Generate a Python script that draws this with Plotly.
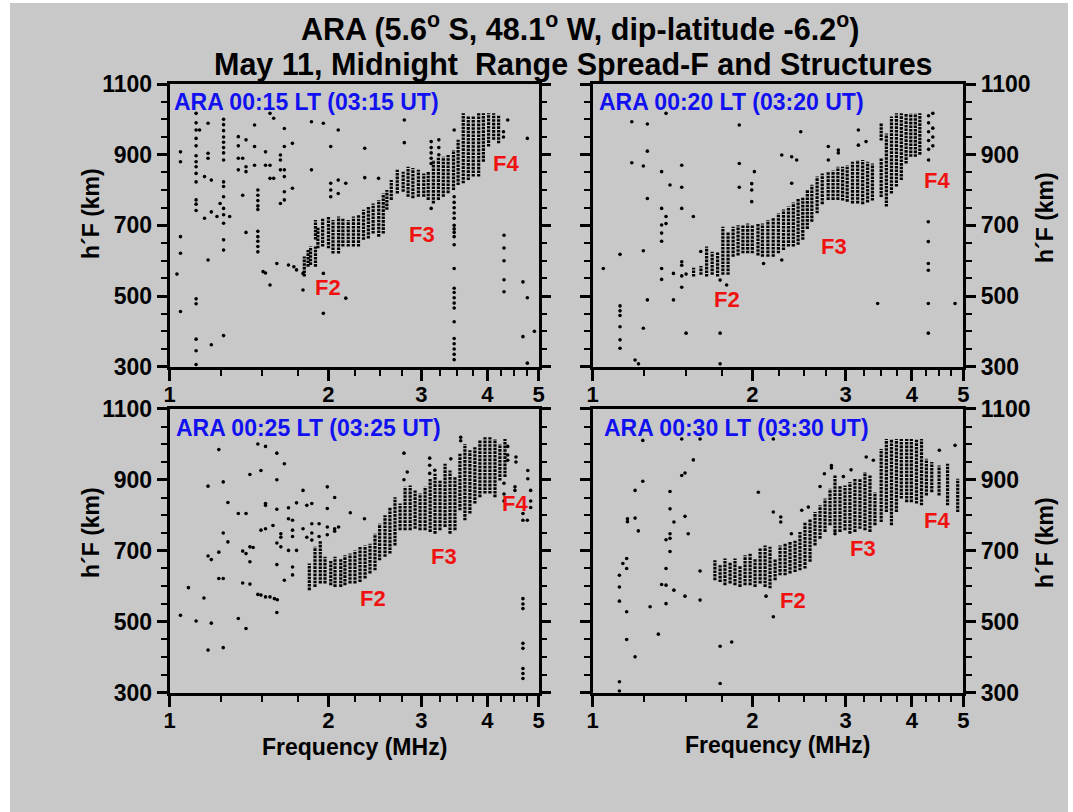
import math
import plotly.graph_objects as go

# ---------------- data ----------------
TITLE_1 = "ARA (5.6<sup>o</sup> S, 48.1<sup>o</sup> W, dip-latitude -6.2<sup>o</sup>)"
TITLE_2 = "May 11, Midnight  Range Spread-F and Structures"
PANEL_LABELS = ["ARA 00:15 LT (03:15 UT)", "ARA 00:20 LT (03:20 UT)",
                "ARA 00:25 LT (03:25 UT)", "ARA 00:30 LT (03:30 UT)"]
X_TICKS = [1, 2, 3, 4, 5]
X_MINOR = [1.25, 1.5, 1.75, 2.25, 2.5, 2.75, 3.25, 3.5, 3.75, 4.25, 4.5, 4.75]
Y_TICKS = [300, 500, 700, 900, 1100]
Y_MINOR = [350, 400, 450, 550, 600, 650, 750, 800, 850, 950, 1000, 1050]

# Panel 1 (00:15 LT): dense trace columns (frequency MHz, lowest / highest h'F km)
P1_COL_F = [1.80, 1.83, 1.85, 1.89, 1.89, 1.91, 1.95, 2.00, 2.04, 2.09, 2.13, 2.18, 2.23, 2.28,
            2.33, 2.38, 2.43, 2.49, 2.54, 2.58, 2.63, 2.70, 2.77, 2.83, 2.89, 2.96, 3.03, 3.09,
            3.16, 3.23, 3.30, 3.37, 3.45, 3.52, 3.60, 3.68, 3.76, 3.85, 3.93, 4.02, 4.11, 4.20]
P1_COL_LO = [555, 583, 588, 583, 660, 635, 640, 635, 620, 620, 640, 640, 640, 640,
             659, 663, 677, 668, 677, 744, 772, 790, 795, 781, 777, 781, 781, 772,
             762, 772, 781, 791, 800, 814, 819, 828, 838, 838, 880, 923, 942, 932]
P1_COL_HI = [612, 630, 640, 640, 715, 696, 720, 725, 715, 725, 720, 715, 725, 730,
             744, 753, 762, 772, 790, 800, 828, 857, 852, 866, 862, 857, 847, 852,
             885, 894, 894, 899, 913, 942, 1017, 1008, 1008, 1017, 1017, 1017, 1017, 1010]
# Panel 1 isolated echoes
P1_PT_F = [1.033,
           1.049, 1.049, 1.049, 1.049, 1.049,
           1.123, 1.123, 1.123, 1.123, 1.123, 1.123, 1.123, 1.123, 1.123,
           1.123, 1.123, 1.123, 1.123, 1.123, 1.123, 1.123, 1.123, 1.123,
           1.14, 1.165, 1.165,
           1.183, 1.183, 1.183, 1.183,
           1.20, 1.20, 1.20, 1.23, 1.247,
           1.266, 1.266, 1.266, 1.266, 1.266, 1.266, 1.266, 1.266, 1.266,
           1.266, 1.266, 1.266, 1.266, 1.266, 1.266, 1.266, 1.266,
           1.30, 1.35, 1.35, 1.35, 1.35, 1.376, 1.376,
           1.396, 1.396, 1.396, 1.396, 1.449, 1.449, 1.449,
           1.47, 1.47, 1.47, 1.47, 1.47, 1.47, 1.47, 1.47, 1.47, 1.47,
           1.504, 1.52, 1.52, 1.52,
           1.55, 1.55, 1.55, 1.55, 1.575, 1.575, 1.597,
           1.622, 1.622, 1.622, 1.622,
           1.65, 1.65, 1.65, 1.65, 1.65, 1.65,
           1.68, 1.72, 1.74, 1.709, 1.709, 1.79, 1.79,
           1.857, 1.857, 1.956, 1.956, 1.956,
           2.02, 2.02, 2.02, 2.02, 2.087, 2.087, 2.087,
           2.157, 2.157, 2.343, 2.343, 2.488, 2.784, 2.784,
           3.13, 3.13, 3.13, 3.13, 3.13, 3.13, 3.236, 3.236, 3.236,
           3.46, 3.46, 3.46, 3.46, 3.46, 3.46, 3.46, 3.46, 3.46, 3.46, 3.46, 3.46,
           3.46, 3.46, 3.46, 3.46, 3.46, 3.46, 3.46, 3.46, 3.46, 3.46, 3.46,
           4.30, 4.30, 4.30, 4.30, 4.30, 4.37, 4.29, 4.29,
           4.67, 4.67, 4.76, 4.76, 4.76, 4.91]
P1_PT_H = [562,
           908, 880, 668, 621, 456,
           1017, 990, 970, 946, 925, 897, 880, 866, 847,
           823, 772, 760, 742, 492, 478, 378, 345, 306,
           970, 838, 720,
           989, 904, 890, 602,
           828, 738, 362, 725, 762,
           1000, 985, 968, 950, 935, 920, 905, 885, 823,
           810, 781, 748, 730, 706, 659, 630, 388,
           725, 951, 925, 890, 857, 890, 785,
           942, 866, 852, 680, 984, 923, 870,
           800, 785, 770, 755, 745, 683, 668, 655, 640, 625,
           569, 565, 908, 870,
           1017, 870, 833, 531, 1003, 833, 592,
           899, 885, 857, 762,
           974, 923, 857, 838, 795, 772,
           588, 583, 574, 932, 805, 564, 517,
           993, 857, 989, 564, 451,
           923, 819, 800, 781, 970, 828, 790,
           819, 494, 918, 835, 833, 998, 934,
           937, 920, 905, 890, 875, 748, 942, 920, 900,
           970, 781, 765, 750, 735, 720, 700, 690, 680, 668, 645, 578,
           522, 510, 495, 480, 466, 427, 380, 365, 350, 335, 320,
           672, 636, 600, 546, 512, 998, 965, 950,
           540, 385, 946, 495, 310, 400]

# Panel 2 (00:20 LT)
P2_COL_F = [1.55, 1.60, 1.64, 1.68, 1.72, 1.76, 1.80, 1.84, 1.88, 1.92, 1.96, 2.00, 2.05, 2.09,
            2.14, 2.19, 2.24, 2.29, 2.34, 2.39, 2.44, 2.49, 2.54, 2.59, 2.65, 2.71, 2.78, 2.84,
            2.90, 2.96, 3.02, 3.09, 3.16, 3.23, 3.30, 3.37, 3.50, 3.50, 3.58, 3.66, 3.74, 3.82,
            3.90, 3.98, 4.06, 4.14]
P2_COL_LO = [555, 560, 555, 560, 555, 560, 560, 611, 615, 621, 621, 621, 615, 611,
             611, 611, 621, 630, 640, 640, 645, 659, 690, 710, 734, 760, 772, 772,
             772, 770, 767, 762, 762, 760, 765, 770, 780, 940, 753, 790, 810, 828,
             875, 894, 894, 900]
P2_COL_HI = [580, 585, 640, 625, 625, 696, 680, 696, 700, 700, 705, 701, 705, 705,
             715, 720, 734, 745, 753, 765, 775, 781, 800, 815, 838, 847, 850, 855,
             866, 866, 870, 880, 885, 885, 880, 875, 890, 990, 960, 1008, 1017, 1017,
             1017, 1017, 1017, 1017]
P2_PT_F = [1.047,
           1.126, 1.126, 1.126, 1.126, 1.126, 1.126, 1.126,
           1.185, 1.185, 1.202, 1.22,
           1.246, 1.246, 1.246, 1.268, 1.268, 1.268, 1.268,
           1.349, 1.349, 1.349, 1.349, 1.349, 1.349, 1.349,
           1.375, 1.375, 1.375, 1.399, 1.42, 1.42,
           1.472, 1.472, 1.472, 1.472, 1.472, 1.472, 1.472,
           1.50, 1.50, 1.548, 1.599,
           1.739, 1.739, 1.739, 1.789,
           1.89, 1.89, 1.89, 1.995, 1.995, 1.995, 2.018, 2.10,
           2.273, 2.273, 2.373, 2.373, 2.425, 2.468,
           2.782, 2.782, 2.906, 2.906, 3.17, 3.17, 3.278, 3.447,
           4.295, 4.295, 4.295, 4.295, 4.295, 4.295,
           4.30, 4.30, 4.30, 4.30, 4.30, 4.30,
           4.38, 4.38, 4.38, 4.38, 4.824]
P2_PT_H = [578,
           618, 472, 458, 445, 413, 376, 352,
           993, 877, 319, 308,
           868, 628, 409, 987, 910, 776, 489,
           852, 748, 701, 678, 655, 578, 547,
           1017, 725, 705, 814, 489, 564,
           870, 808, 748, 597, 587, 557, 525,
           395, 562, 725, 626,
           395, 308, 545, 531,
           984, 875, 808, 818, 800, 767, 852, 592,
           899, 602, 894, 819, 885, 965,
           923, 885, 913, 905, 970, 927, 937, 479,
           710, 654, 592, 573, 479, 395,
           1010, 990, 965, 940, 915, 885,
           1017, 975, 950, 925, 479]

# Panel 3 (00:25 LT)
P3_COL_F = [1.84, 1.886, 1.93, 1.97, 2.02, 2.058, 2.11, 2.149, 2.197, 2.245, 2.295, 2.346,
            2.397, 2.45, 2.50, 2.559, 2.615, 2.673, 2.733, 2.793, 2.856, 2.918, 2.982, 3.048,
            3.116, 3.183, 3.253, 3.325, 3.398, 3.472, 3.548, 3.626, 3.706, 3.787, 3.871,
            3.957, 4.044, 4.134, 4.224, 4.318]
P3_COL_LO = [589, 598, 608, 608, 603, 598, 598, 603, 608, 608, 612, 622,
             636, 645, 673, 683, 692, 715, 758, 758, 758, 762, 758, 758,
             753, 748, 758, 767, 748, 758, 814, 786, 805, 833, 851,
             861, 861, 851, 898, 908]
P3_COL_HI = [664, 711, 729, 683, 673, 683, 678, 687, 692, 701, 711, 715,
             720, 748, 776, 800, 823, 851, 833, 880, 884, 870, 861, 880,
             903, 917, 898, 945, 926, 908, 973, 1001, 983, 992, 1011,
             1020, 1020, 1015, 1001, 1015]
P3_PT_F = [1.049, 1.086, 1.123, 1.162,
           1.183, 1.183, 1.183, 1.20, 1.20,
           1.24, 1.24, 1.24, 1.264, 1.264, 1.264, 1.264,
           1.29, 1.29, 1.35, 1.35, 1.376, 1.376,
           1.396, 1.396, 1.396, 1.42, 1.42, 1.42, 1.42, 1.44,
           1.47, 1.47, 1.49, 1.49, 1.49,
           1.52, 1.52, 1.52, 1.52, 1.52, 1.55, 1.58, 1.60, 1.57,
           1.597, 1.597, 1.597, 1.597, 1.597, 1.597,
           1.625, 1.625, 1.625, 1.65, 1.65,
           1.68, 1.68, 1.68, 1.71, 1.71, 1.71, 1.71, 1.71,
           1.74, 1.74, 1.79, 1.79, 1.82, 1.82,
           1.86, 1.86, 1.86, 1.86, 1.92, 1.92,
           1.99, 1.99, 1.99, 1.99, 2.055, 2.055, 2.055, 2.09,
           2.20, 2.34, 2.78, 2.78, 2.82,
           3.11, 3.11, 3.11, 3.18, 3.41, 3.56, 3.56,
           4.37, 4.37, 4.37, 4.53, 4.53, 4.77, 4.77,
           4.83, 4.83, 4.83, 4.67, 4.67, 4.76,
           4.67, 4.67, 4.67, 4.67, 4.67, 4.67, 4.67, 4.67,
           4.51, 4.51, 4.30, 4.30, 4.30]
P3_PT_H = [518, 596, 502, 567,
           882, 685, 420, 675, 496,
           985, 696, 622, 894, 750, 622, 427,
           836, 725, 805, 509, 699, 609,
           805, 692, 481, 915, 711, 669, 606, 709,
           1001, 577, 926, 758, 575,
           994, 833, 828, 762, 570, 570, 565, 562, 771,
           975, 900, 817, 722, 661, 526,
           748, 738, 711, 945, 617,
           821, 790, 701, 786, 758, 740, 654, 632,
           835, 701, 870, 762, 828, 738,
           833, 776, 750, 730, 776, 740,
           880, 819, 767, 745, 850, 762, 755, 767,
           807, 790, 975, 900, 922,
           961, 941, 918, 927, 959, 1020, 1010,
           994, 970, 955, 964, 950, 926, 903,
           870, 840, 822, 805, 786, 786,
           565, 550, 537, 439, 425, 368, 354, 340,
           880, 870, 890, 860, 840]

# Panel 4 (00:30 LT)
P4_COL_F = [1.70, 1.739, 1.776, 1.816, 1.855, 1.896, 1.938, 1.981, 2.024, 2.069, 2.114, 2.160,
            2.208, 2.256, 2.306, 2.356, 2.408, 2.460, 2.514, 2.570, 2.626, 2.684, 2.743, 2.803,
            2.864, 2.927, 2.991, 3.056, 3.123, 3.192, 3.262, 3.334, 3.407, 3.50, 3.58, 3.66,
            3.74, 3.82, 3.91, 3.99, 4.08, 4.17, 4.26, 4.36, 4.50, 4.67, 4.88]
P4_COL_LO = [617, 612, 603, 608, 603, 598, 603, 603, 598, 608, 598, 594,
             617, 631, 631, 636, 640, 645, 650, 669, 715, 734, 753, 772,
             753, 753, 758, 748, 753, 762, 758, 753, 772, 781, 809, 772,
             809, 847, 837, 837, 833, 828, 856, 865, 856, 828, 809]
P4_COL_HI = [673, 659, 678, 669, 678, 659, 687, 692, 678, 706, 715, 711,
             678, 715, 720, 725, 730, 753, 781, 790, 809, 828, 847, 875,
             912, 884, 884, 894, 903, 903, 922, 912, 865, 987, 1015, 1015,
             1015, 1015, 1015, 1015, 1015, 1015, 959, 950, 940, 945, 903]
P4_PT_F = [1.123, 1.123, 1.123, 1.123, 1.123, 1.14,
           1.159, 1.159, 1.159, 1.159, 1.163, 1.163,
           1.202, 1.202, 1.202, 1.219, 1.243, 1.243, 1.283, 1.33, 1.349,
           1.375, 1.375, 1.375, 1.375,
           1.399, 1.399, 1.399, 1.399, 1.399, 1.423, 1.423,
           1.472, 1.472, 1.493, 1.493, 1.493, 1.514, 1.548,
           1.594, 1.594, 1.594, 1.739, 1.739, 1.829,
           2.053, 2.123, 2.191, 2.191, 2.191, 2.263, 2.263,
           2.37, 2.479, 2.551, 2.684, 2.735, 2.82, 2.82, 2.864,
           2.97, 3.071, 3.28, 3.383, 4.506, 4.824]
P4_PT_H = [631, 598, 558, 331, 305, 664,
           678, 650, 528, 450, 790, 782,
           870, 792, 401, 756, 1011, 896, 542, 465, 605,
           650, 603, 551, 731,
           867, 818, 748, 735, 698, 781, 589,
           1015, 912, 919, 797, 572, 748, 956,
           1015, 643, 561, 431, 326, 443,
           865, 572, 1015, 809, 514, 795, 781,
           748, 814, 823, 881, 917, 940, 933, 748,
           909, 928, 964, 955, 983, 997]

# F-layer structure labels: (text, frequency MHz, h'F km) per panel
F_LABELS = [
    [("F2", 1.995, 525), ("F3", 3.01, 673), ("F4", 4.335, 876)],
    [("F2", 1.789, 491), ("F3", 2.852, 640), ("F4", 4.455, 826)],
    [("F2", 2.426, 566), ("F3", 3.311, 685), ("F4", 4.502, 833)],
    [("F2", 2.383, 561), ("F3", 3.239, 706), ("F4", 4.455, 786)],
]

PANELS = [
    (P1_COL_F, P1_COL_LO, P1_COL_HI, P1_PT_F, P1_PT_H),
    (P2_COL_F, P2_COL_LO, P2_COL_HI, P2_PT_F, P2_PT_H),
    (P3_COL_F, P3_COL_LO, P3_COL_HI, P3_PT_F, P3_PT_H),
    (P4_COL_F, P4_COL_LO, P4_COL_HI, P4_PT_F, P4_PT_H),
]

# ---------------- layout geometry (pixels of a 1073 x 812 page) ----------------
W, H = 1073, 812
FONT = "Liberation Sans, Arial, sans-serif"
X_DOM = [(169.5, 538.6), (592.7, 963.3), (169.5, 538.6), (592.7, 963.3)]
Y_DOM = [(84.0, 366.7), (84.0, 366.7), (408.8, 692.7), (408.8, 692.7)]


def px_x(p):
    return p / W


def px_y(p):
    return 1 - p / H


fig = go.Figure()

for i, (cf, clo, chi, pf, ph) in enumerate(PANELS):
    sfx = "" if i == 0 else str(i + 1)
    xs, ys = [], []
    for f, lo, hi in zip(cf, clo, chi):
        xs += [f, f, None]
        ys += [lo, hi, None]
    fig.add_trace(go.Scatter(x=xs, y=ys, mode="lines", xaxis="x" + sfx, yaxis="y" + sfx,
                             line=dict(color="black", width=3.2, dash="2.6px,1px"),
                             hoverinfo="skip", showlegend=False))
    fig.add_trace(go.Scatter(x=pf, y=ph, mode="markers", xaxis="x" + sfx, yaxis="y" + sfx,
                             marker=dict(color="black", size=3.6, line=dict(width=0)),
                             showlegend=False))

layout = dict(
    template="none",
    width=W, height=H, margin=dict(l=0, r=0, t=0, b=0, pad=0, autoexpand=False),
    paper_bgcolor="white", plot_bgcolor="rgba(0,0,0,0)", showlegend=False,
    font=dict(family=FONT, color="black"),
)

for i in range(4):
    sfx = "" if i == 0 else str(i + 1)
    xd = X_DOM[i]
    yd = Y_DOM[i]
    layout["xaxis" + sfx] = dict(
        type="log", range=[0, math.log10(5)], domain=[px_x(xd[0]), px_x(xd[1])],
        anchor="y" + sfx, automargin=False,
        showline=True, linecolor="black", linewidth=2.5, mirror=True,
        ticks="outside", ticklen=11.5, tickwidth=2.5, tickcolor="black",
        ticklabelstandoff=-5,
        tickmode="array", tickvals=X_TICKS, ticktext=[str(v) for v in X_TICKS],
        tickfont=dict(family=FONT, size=22, color="black", weight="bold"),
        minor=dict(tickmode="array", tickvals=X_MINOR, ticks="outside", ticklen=7,
                   tickwidth=2, tickcolor="black", showgrid=False),
        showgrid=False, zeroline=False, fixedrange=True)
    layout["yaxis" + sfx] = dict(
        range=[300, 1100], domain=[px_y(yd[1]), px_y(yd[0])], anchor="x" + sfx,
        side="left" if i % 2 == 0 else "right", automargin=False,
        showline=True, linecolor="black", linewidth=2.5, mirror="ticks",
        ticks="outside", ticklen=10, tickwidth=2.5, tickcolor="black",
        tickmode="array", tickvals=Y_TICKS, ticktext=[str(v) for v in Y_TICKS],
        tickfont=dict(family=FONT, size=23, color="black", weight="bold"),
        minor=dict(tickmode="array", tickvals=Y_MINOR, ticks="outside", ticklen=6,
                   tickwidth=2, tickcolor="black", showgrid=False),
        showgrid=False, zeroline=False, fixedrange=True)

fig.update_layout(**layout)

# grey page background (white strips at left, top and right as in the reference)
fig.add_shape(type="rect", xref="paper", yref="paper", x0=px_x(10), x1=px_x(1068),
              y0=0, y1=px_y(3), fillcolor="#c8c8c8", line=dict(width=0), layer="below")

ann = []
# titles
ann.append(dict(text=TITLE_1, x=px_x(580), y=px_y(27), xref="paper", yref="paper",
                showarrow=False, xanchor="center", yanchor="middle",
                font=dict(family=FONT, size=30.5, color="black", weight="bold")))
ann.append(dict(text=TITLE_2, x=px_x(573), y=px_y(64), xref="paper", yref="paper",
                showarrow=False, xanchor="center", yanchor="middle",
                font=dict(family=FONT, size=30.5, color="black", weight="bold")))
# panel labels
label_pos = [(172, 101.7), (596.7, 101.7), (173.6, 428.3), (601.7, 428.3)]
for txt, (lx, ly) in zip(PANEL_LABELS, label_pos):
    ann.append(dict(text=txt, x=px_x(lx), y=px_y(ly), xref="paper", yref="paper",
                    showarrow=False, xanchor="left", yanchor="middle",
                    font=dict(family=FONT, size=23, color="#1010f0", weight="bold")))
# F labels
for i, labs in enumerate(F_LABELS):
    sfx = "" if i == 0 else str(i + 1)
    for txt, f, h in labs:
        ann.append(dict(text=txt, x=math.log10(f), y=h, xref="x" + sfx, yref="y" + sfx,
                        showarrow=False, xanchor="center", yanchor="middle",
                        font=dict(family=FONT, size=22, color="#f01010", weight="bold")))
# axis titles
for (ax_, ay_) in [(91, 214), (1045, 218), (91, 533), (1045, 543)]:
    ann.append(dict(text="h´F (km)", x=px_x(ax_), y=px_y(ay_), xref="paper", yref="paper",
                    showarrow=False, textangle=-90, xanchor="center", yanchor="middle",
                    font=dict(family=FONT, size=23, color="black", weight="bold")))
for (ax_, ay_) in [(354, 747), (777, 745)]:
    ann.append(dict(text="Frequency (MHz)", x=px_x(ax_), y=px_y(ay_), xref="paper",
                    yref="paper", showarrow=False, xanchor="center", yanchor="middle",
                    font=dict(family=FONT, size=23, color="black", weight="bold")))
fig.update_layout(annotations=ann)

fig.write_html("out.html",
               post_script="document.body.style.margin='0px';"
                           "document.body.style.overflow='hidden';")
